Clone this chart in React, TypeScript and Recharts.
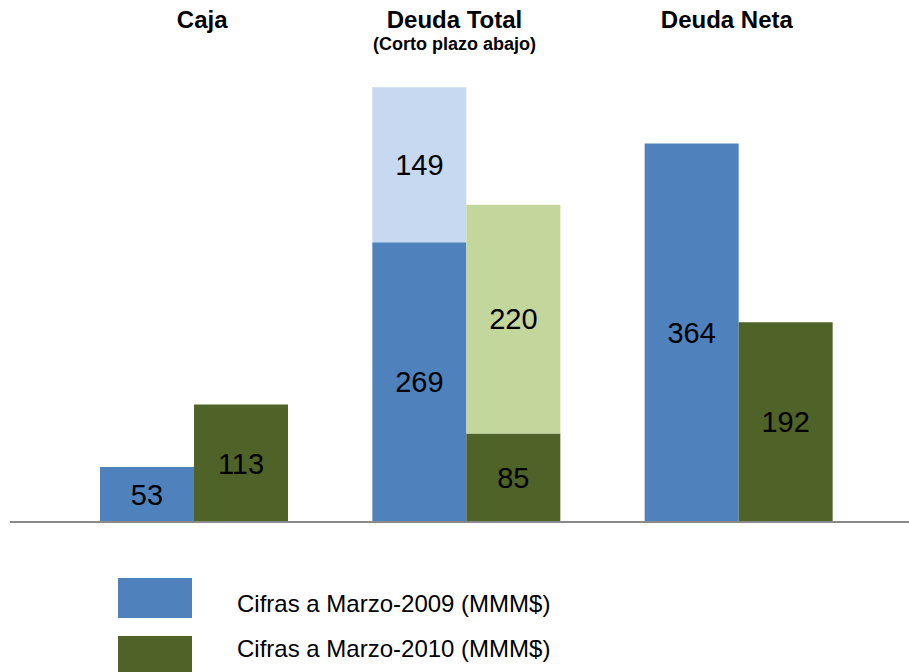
import { Bar, BarChart, LabelList, Legend, XAxis, YAxis } from "recharts";

const FONT = '"Liberation Sans", Arial, sans-serif';

const categories = ["Caja", "Deuda Total", "Deuda Neta"];
const subtitles = ["", "(Corto plazo abajo)", ""];
// Deuda Total is split: short term (bottom) + long term (top)
const marzo2009 = [53, 269, 364];
const marzo2009Largo = [null, 149, null];
const marzo2010 = [113, 85, 192];
const marzo2010Largo = [null, 220, null];
const legendLabels = ["Cifras a Marzo-2009 (MMM$)", "Cifras a Marzo-2010 (MMM$)"];

const COLORS = {
  blue: "#4F81BD",
  lightBlue: "#C6D9F1",
  green: "#4F6228",
  lightGreen: "#C3D69B",
};

// small horizontal nudges so titles sit where the original put them
const TITLE_NUDGE = [8, -12, -12];

const data = categories.map((name, i) => ({
  name,
  sub: subtitles[i],
  m2009: marzo2009[i],
  m2009Largo: marzo2009Largo[i],
  m2010: marzo2010[i],
  m2010Largo: marzo2010Largo[i],
}));

const hideEmpty = (v: unknown) => (v == null || v === 0 ? "" : String(v));

function TitleTick({ x, payload }: { x: number; payload: { value: string; index: number } }) {
  const i = payload.index;
  const cx = x + TITLE_NUDGE[i];
  return (
    <g>
      <text x={cx} y={28} textAnchor="middle" fontFamily={FONT} fontWeight="bold" fontSize={24} fill="#000">
        {payload.value}
      </text>
      {subtitles[i] && (
        <text x={cx} y={50} textAnchor="middle" fontFamily={FONT} fontWeight="bold" fontSize={18} fill="#000">
          {subtitles[i]}
        </text>
      )}
    </g>
  );
}

// zero-height box so the legend doesn't eat into the plot area
function LegendBox() {
  const swatches = [COLORS.blue, COLORS.green];
  return (
    <div style={{ position: "relative", width: 500, height: 0, fontFamily: FONT }}>
      {legendLabels.map((label, i) => (
        <div key={label}>
          <div
            style={{
              position: "absolute",
              left: 0,
              top: i * 58,
              width: 74,
              height: 40,
              background: swatches[i],
            }}
          />
          <div
            style={{
              position: "absolute",
              left: 119,
              top: i * 58 + 12 - (i === 1 ? 13 : 0),
              fontSize: 24,
              lineHeight: "28px",
              color: "#000",
              whiteSpace: "nowrap",
            }}
          >
            {label}
          </div>
        </div>
      ))}
    </div>
  );
}

const labelStyle = { fontFamily: FONT, fontSize: 29, fill: "#000" };

export default function App() {
  return (
    <div style={{ position: "absolute", left: 0, top: 0, background: "#fff" }}>
      <BarChart
        width={909}
        height={672}
        data={data}
        margin={{ top: 0, right: 0, bottom: 120, left: 10 }}
        barSize={94}
        barGap={0}
      >
        <XAxis
          xAxisId="top"
          orientation="top"
          dataKey="name"
          height={54}
          axisLine={false}
          tickLine={false}
          padding={{ left: 48, right: 34 }}
          tick={TitleTick as any}
          interval={0}
        />
        <XAxis
          dataKey="name"
          height={30}
          tick={false}
          tickLine={false}
          axisLine={{ stroke: "#898989", strokeWidth: 2 }}
          padding={{ left: 48, right: 34 }}
        />
        <YAxis hide domain={[0, 450]} />
        <Legend
          content={<LegendBox />}
          wrapperStyle={{ position: "absolute", left: 118, top: 578, width: 500, height: 0 }}
        />
        <Bar dataKey="m2009" stackId="a" fill={COLORS.blue} isAnimationActive={false}>
          <LabelList dataKey="m2009" position="center" formatter={hideEmpty} style={labelStyle} />
        </Bar>
        <Bar dataKey="m2009Largo" stackId="a" fill={COLORS.lightBlue} isAnimationActive={false}>
          <LabelList dataKey="m2009Largo" position="center" formatter={hideEmpty} style={labelStyle} />
        </Bar>
        <Bar dataKey="m2010" stackId="b" fill={COLORS.green} isAnimationActive={false}>
          <LabelList dataKey="m2010" position="center" formatter={hideEmpty} style={labelStyle} />
        </Bar>
        <Bar dataKey="m2010Largo" stackId="b" fill={COLORS.lightGreen} isAnimationActive={false}>
          <LabelList dataKey="m2010Largo" position="center" formatter={hideEmpty} style={labelStyle} />
        </Bar>
      </BarChart>
    </div>
  );
}
